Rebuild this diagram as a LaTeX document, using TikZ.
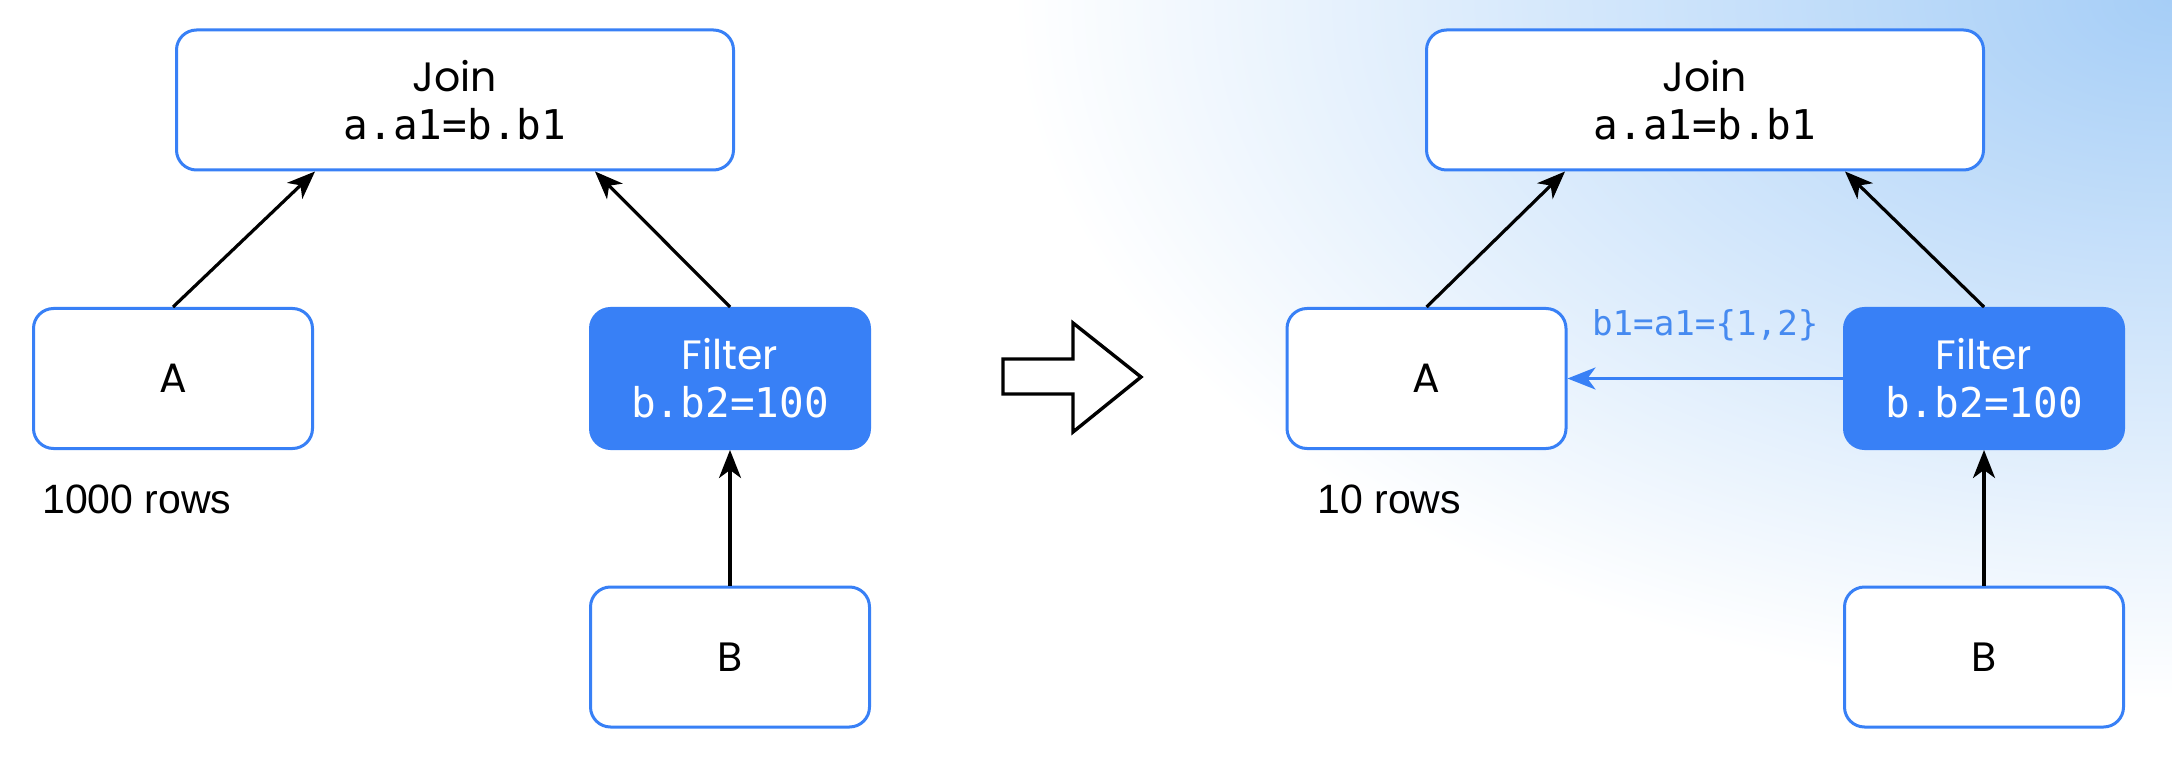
\documentclass[tikz,border=0pt]{standalone}
\usepackage{fontspec}
\setmainfont{Liberation Sans}
\setsansfont{Liberation Sans}
\setmonofont{DejaVu Sans Mono}
\newfontfamily\opfont{Poppins}
\usetikzlibrary{arrows.meta,calc}
\definecolor{nodeblue}{RGB}{56,128,246}
\definecolor{bgblue}{RGB}{166,206,247}
\definecolor{labelblue}{RGB}{70,138,240}
\pgfdeclareradialshading{bgfade}{\pgfpoint{0bp}{0bp}}{color(0bp)=(bgblue); color(25bp)=(white); color(50bp)=(white)}
\tikzset{
  opbox/.style={draw=nodeblue, line width=1.5pt, rounded corners=10pt, fill=white,
    minimum width=139.5pt, minimum height=70pt, align=center, inner sep=0pt,
    font=\opfont\fontsize{20.5}{24}\selectfont},
  widebox/.style={opbox, minimum width=278.5pt},
  filterbox/.style={opbox, fill=nodeblue, text=white},
  flow/.style={draw=black, line width=1.6pt, -{Stealth[length=14pt,width=11pt,inset=4pt]}},
  hintflow/.style={draw=nodeblue, line width=1.6pt, -{Stealth[length=14pt,width=11pt,inset=4pt]}},
  hintlabel/.style={text=labelblue, font=\ttfamily\fontsize{17.1}{20}\selectfont, inner sep=0pt},
  rowtxt/.style={anchor=base west, inner sep=0pt, font=\fontsize{20.5}{24}\selectfont},
  bigarrow/.style={draw=black, line width=1.7pt, fill=white, line join=miter}
}
\begin{document}
\begin{tikzpicture}[x=0.5pt,y=-0.5pt]
\useasboundingbox (0,0) rectangle (2172,764);
\fill[white] (0,0) rectangle (2172,764);
\begin{scope}
  \clip (0,0) rectangle (2172,764);
  \shade[shading=bgfade] (2172,0) ellipse [x radius=580pt, y radius=350pt];
\end{scope}

% left plan
\node[widebox] (jL) at (455,100) {Join\\\texttt{a.a1=b.b1}};
\node[opbox] (aL) at (173,378.5) {A};
\node[filterbox] (fL) at (730,378.5) {Filter\\\texttt{b.b2=100}};
\node[opbox] (bL) at (730,657) {B};
\node[rowtxt] (rL) at (42,513) {1000 rows};
\draw[flow] (aL.north) -- ($(jL.south west)!0.25!(jL.south east)$);
\draw[flow] (fL.north) -- ($(jL.south west)!0.75!(jL.south east)$);
\draw[flow] (bL.north) -- (fL.south);

% transformation arrow
\draw[bigarrow] (1003,359) -- (1073,359) -- (1073,323) -- (1141,377) -- (1073,432) -- (1073,394) -- (1003,394) -- cycle;

% right plan
\node[widebox] (jR) at (1705,100) {Join\\\texttt{a.a1=b.b1}};
\node[opbox] (aR) at (1426.5,378.5) {A};
\node[filterbox] (fR) at (1984,378.5) {Filter\\\texttt{b.b2=100}};
\node[opbox] (bR) at (1984,657) {B};
\node[rowtxt] (rR) at (1317,513) {10 rows};
\draw[flow] (aR.north) -- ($(jR.south west)!0.25!(jR.south east)$);
\draw[flow] (fR.north) -- ($(jR.south west)!0.75!(jR.south east)$);
\draw[flow] (bR.north) -- (fR.south);
\draw[hintflow] (fR.west) -- node[hintlabel, anchor=base, yshift=21.5pt] (hl) {b1=a1=\{1,2\}} (aR.east);
\end{tikzpicture}
\end{document}
